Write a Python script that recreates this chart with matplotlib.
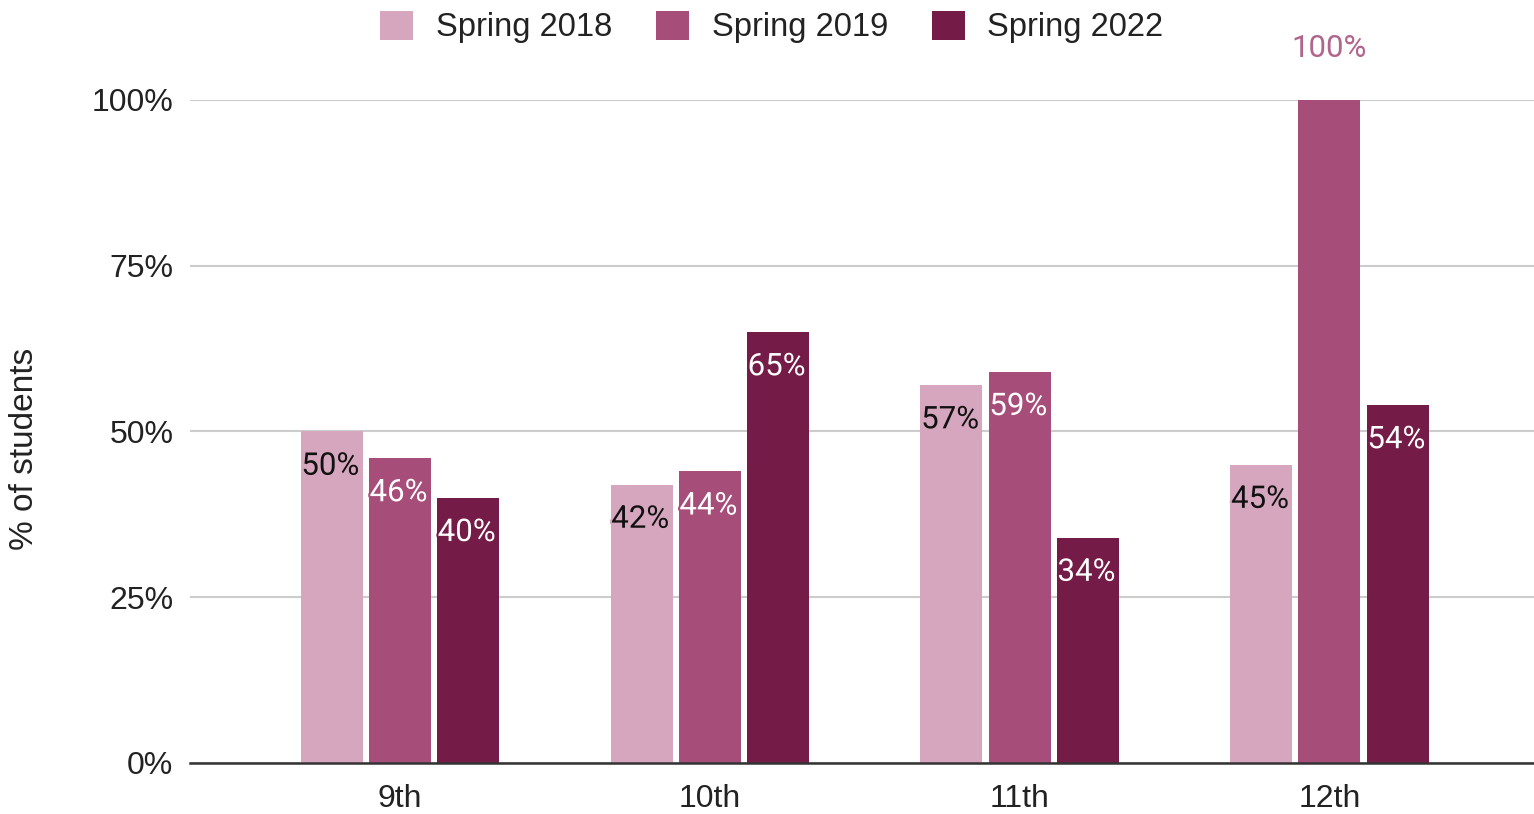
import numpy as np
import matplotlib
matplotlib.use('Agg')
import matplotlib.pyplot as plt
import matplotlib.patheffects as pe

grades = ['9th', '10th', '11th', '12th']
series_names = ['Spring 2018', 'Spring 2019', 'Spring 2022']
spring_2018 = [50, 42, 57, 45]
spring_2019 = [46, 44, 59, 100]
spring_2022 = [40, 65, 34, 54]
yticks = [0, 25, 50, 75, 100]

colors = ['#d5a6bd', '#a64d79', '#741b47']
label_colors = ['#111111', 'white', 'white']

plt.rcParams['font.family'] = ['Liberation Sans', 'DejaVu Sans']

fig = plt.figure(figsize=(15.34, 8.14), dpi=100)
ax = fig.add_axes([190 / 1534, 1 - 763 / 814, 1 - 190 / 1534, (763 - 100) / 814])

x = np.arange(len(grades))
width = 0.2
offsets = [-0.22, 0.0, 0.22]
all_series = [spring_2018, spring_2019, spring_2022]

for vals, off, col, lcol, name in zip(all_series, offsets, colors, label_colors, series_names):
    bars = ax.bar(x + off, vals, width, color=col, label=name, zorder=3)
    for b, v in zip(bars, vals):
        if v >= 100:
            ax.annotate(f'{v}%', (b.get_x() + b.get_width() / 2, v),
                        xytext=(0, 37), textcoords='offset points',
                        ha='center', va='center', fontsize=22.5,
                        family=['Roboto', 'DejaVu Sans'], color='#b0668c',
                        annotation_clip=False)
        else:
            ax.annotate(f'{v}%', (b.get_x(), v),
                        xytext=(0.5, -25), textcoords='offset points',
                        ha='left', va='center', fontsize=22.5,
                        family=['Roboto', 'DejaVu Sans'], color=lcol, zorder=4,
                        path_effects=[pe.withStroke(linewidth=3, foreground=col)])

ax.set_xlim(-0.677, 3.66)
ax.set_ylim(0, 100)
ax.set_yticks(yticks)
ax.set_yticklabels([f'{t}%' for t in yticks])
ax.set_xticks(x)
ax.set_xticklabels(grades)
ax.tick_params(axis='both', length=0, labelsize=23, labelcolor='#222222')
ax.tick_params(axis='y', pad=12)
ax.tick_params(axis='x', pad=15)

ax.grid(axis='y', color='#cccccc', linewidth=1.5, zorder=0)
for s in ['top', 'right', 'left']:
    ax.spines[s].set_visible(False)
ax.spines['bottom'].set_color('#333333')
ax.spines['bottom'].set_linewidth(1.8)
ax.spines['bottom'].set_zorder(5)

fig.text(25 / 1534, 1 - 449 / 814, '% of students', rotation=90,
         ha='center', va='center', fontsize=24, color='#222222')

fig.legend(loc='center', bbox_to_anchor=(772 / 1534, 1 - 27 / 814), ncol=3,
           frameon=False, fontsize=23.5, handlelength=1.0, handleheight=1.0,
           handletextpad=0.7, columnspacing=1.35, labelcolor='#222222')

plt.savefig('out.png', dpi=100)
